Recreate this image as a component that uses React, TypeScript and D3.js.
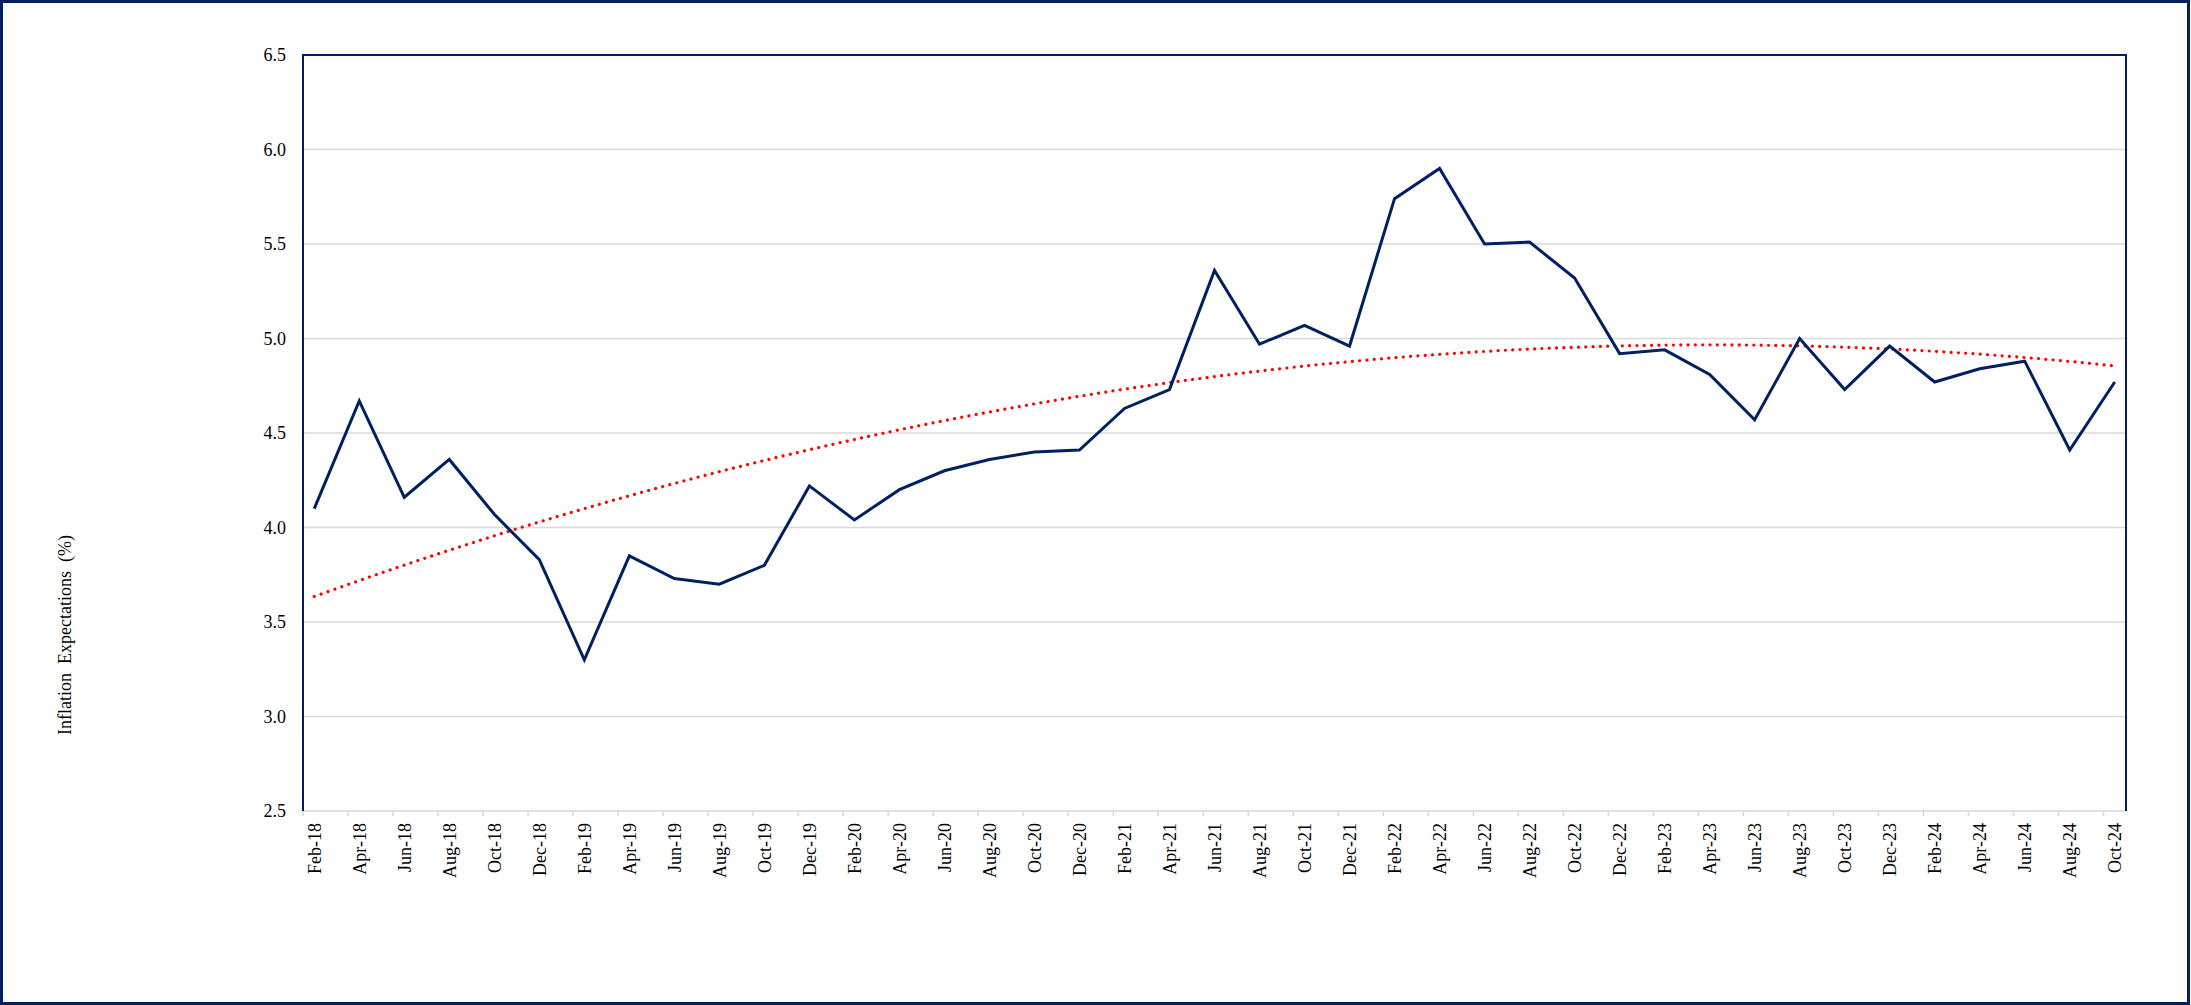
import React from "react";
import * as d3 from "d3";

const categories = ["Feb-18","Apr-18","Jun-18","Aug-18","Oct-18","Dec-18","Feb-19","Apr-19","Jun-19","Aug-19","Oct-19","Dec-19","Feb-20","Apr-20","Jun-20","Aug-20","Oct-20","Dec-20","Feb-21","Apr-21","Jun-21","Aug-21","Oct-21","Dec-21","Feb-22","Apr-22","Jun-22","Aug-22","Oct-22","Dec-22","Feb-23","Apr-23","Jun-23","Aug-23","Oct-23","Dec-23","Feb-24","Apr-24","Jun-24","Aug-24","Oct-24"];
const values = [4.10,4.67,4.16,4.36,4.07,3.83,3.30,3.85,3.73,3.70,3.80,4.22,4.04,4.20,4.30,4.36,4.40,4.41,4.63,4.73,5.36,4.97,5.07,4.96,5.74,5.90,5.50,5.51,5.32,4.92,4.94,4.81,4.57,5.00,4.73,4.96,4.77,4.84,4.88,4.41,4.77];
const yTicks = [2.5,3.0,3.5,4.0,4.5,5.0,5.5,6.0,6.5];
const yTitle = "Inflation  Expectations  (%)";

const W = 2191, H = 1005;
const L = 303, R = 2126, T = 55, B = 811;
const FONT = "'Liberation Serif', 'Times New Roman', serif";
const NAVY = "#002060";

// months: data every 2 months on a monthly date axis
const monthIdx = categories.map((_, i) => i * 2);
const nMonths = monthIdx[monthIdx.length - 1] + 1;

function quadFit(xs: number[], ys: number[]) {
  let s0 = 0, s1 = 0, s2 = 0, s3 = 0, s4 = 0, t0 = 0, t1 = 0, t2 = 0;
  xs.forEach((x, i) => {
    const y = ys[i];
    s0 += 1; s1 += x; s2 += x * x; s3 += x ** 3; s4 += x ** 4;
    t0 += y; t1 += x * y; t2 += x * x * y;
  });
  const M = [[s0, s1, s2, t0], [s1, s2, s3, t1], [s2, s3, s4, t2]];
  for (let c = 0; c < 3; c++) {
    for (let r = c + 1; r < 3; r++) {
      const f = M[r][c] / M[c][c];
      for (let k = c; k < 4; k++) M[r][k] -= f * M[c][k];
    }
  }
  const sol = [0, 0, 0];
  for (let r = 2; r >= 0; r--) {
    let s = M[r][3];
    for (let k = r + 1; k < 3; k++) s -= M[r][k] * sol[k];
    sol[r] = s / M[r][r];
  }
  return (x: number) => sol[0] + sol[1] * x + sol[2] * x * x;
}

export default function App() {
  const x = d3.scaleLinear().domain([-0.5, nMonths - 0.5]).range([L, R]);
  const y = d3.scaleLinear().domain([2.5, 6.5]).range([B, T]);
  const line = d3.line<[number, number]>().x(d => x(d[0])).y(d => y(d[1]));
  const pts: [number, number][] = monthIdx.map((m, i) => [m, values[i]]);
  const fit = quadFit(monthIdx, values);
  const trendPts: [number, number][] = d3.range(0, monthIdx[monthIdx.length - 1] + 0.001, 0.5).map(m => [m, fit(m)]);
  const tickPos = d3.range(0, categories.length).map(k => x(-0.5 + 2 * k));

  return (
    <svg width={W} height={H} style={{ position: "absolute", left: 0, top: 0, display: "block" }} fontFamily={FONT}>
      <rect x={0} y={0} width={W} height={H} fill="#fff" />
      <rect x={1.5} y={1.5} width={2187} height={1002} fill="none" stroke={NAVY} strokeWidth={3} />
      {yTicks.slice(1, -1).map(t => (
        <line key={t} x1={L} x2={R} y1={y(t)} y2={y(t)} stroke="#D9D9D9" strokeWidth={1.5} />
      ))}
      {/* x axis */}
      <line x1={L} x2={R} y1={B} y2={B} stroke="#D9D9D9" strokeWidth={1.5} />
      {tickPos.map((p, i) => (
        <line key={i} x1={p} x2={p} y1={B} y2={B + 5} stroke="#D9D9D9" strokeWidth={1.5} />
      ))}
      {/* plot border */}
      <line x1={L} x2={R} y1={T} y2={T} stroke={NAVY} strokeWidth={2} />
      <line x1={L} x2={L} y1={T - 1} y2={B} stroke={NAVY} strokeWidth={2} />
      <line x1={R} x2={R} y1={T - 1} y2={B} stroke={NAVY} strokeWidth={2} />
      {yTicks.map(t => (
        <text key={t} x={286} y={y(t)} dy="0.35em" textAnchor="end" fontSize={18} fill="#000">{t.toFixed(1)}</text>
      ))}
      {categories.map((c, i) => (
        <text key={c} transform={`translate(${x(monthIdx[i])},${B + 12}) rotate(-90)`} textAnchor="end" dy="0.35em" fontSize={18} fill="#000">{c}</text>
      ))}
      <text transform={`translate(65,635) rotate(-90)`} textAnchor="middle" dy="0.35em" fontSize={18} fill="#000" style={{ whiteSpace: "pre" }}>{yTitle}</text>
      <path d={line(trendPts) || ""} fill="none" stroke="#FF0000" strokeWidth={3.2} strokeLinecap="round" strokeDasharray="0.01 7.3" />
      <path d={line(pts) || ""} fill="none" stroke={NAVY} strokeWidth={3} strokeLinejoin="miter" />
    </svg>
  );
}
